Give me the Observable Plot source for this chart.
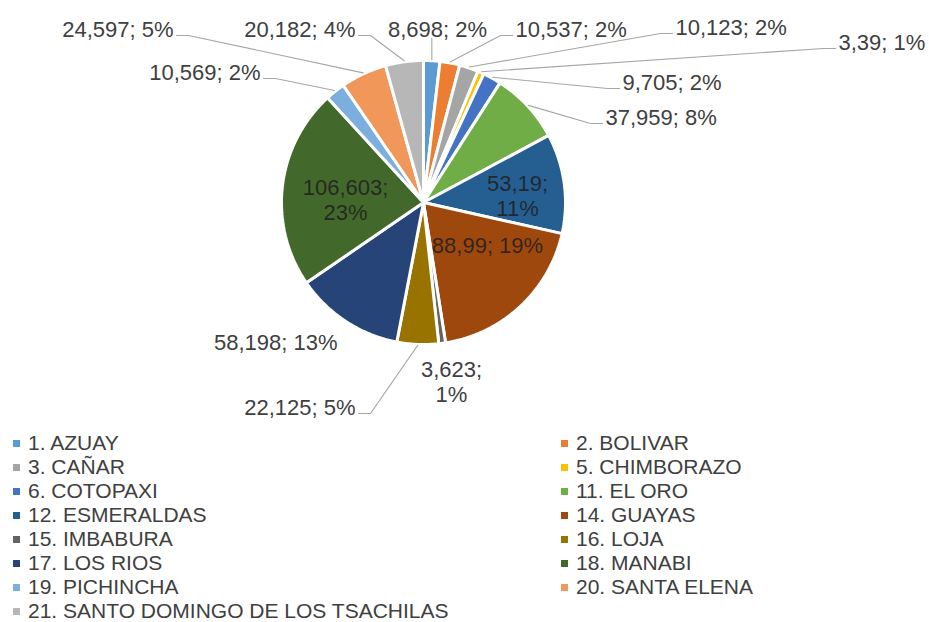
<!DOCTYPE html>
<html><head><meta charset="utf-8">
<script src="https://cdn.jsdelivr.net/npm/d3@7"></script>
<script src="https://cdn.jsdelivr.net/npm/@observablehq/plot@0.6"></script>
<style>
body{margin:0;background:#fff;font-family:"Liberation Sans",Arial,sans-serif;}
#legend{display:grid;grid-template-columns:548px 1fr;padding-left:13px;color:#404040;font-size:21px;}
.item{display:flex;align-items:center;height:24px;white-space:nowrap;}
.sw{width:7px;height:7px;margin-right:8px;flex:none;}
</style></head><body><div id="chart"></div><div id="legend"></div>
<script>
// ---- data ----
const provinces = ["1. AZUAY","2. BOLIVAR","3. CAÑAR","5. CHIMBORAZO","6. COTOPAXI","11. EL ORO","12. ESMERALDAS","14. GUAYAS","15. IMBABURA","16. LOJA","17. LOS RIOS","18. MANABI","19. PICHINCHA","20. SANTA ELENA","21. SANTO DOMINGO DE LOS TSACHILAS"];
const values = [8.698,10.537,10.123,3.39,9.705,37.959,53.19,88.99,3.623,22.125,58.198,106.603,10.569,24.597,20.182];
const shares = [2,2,2,1,2,8,11,19,1,5,13,23,2,5,4];
const colors = ["#5B9BD5","#ED7D31","#A5A5A5","#FFC000","#4472C4","#70AD47","#255E91","#9E480E","#636363","#997300","#264478","#43682B","#7CAFDD","#F1975A","#B7B7B7"];

// ---- layout ----
const W = 929, H = 431, CX = 423, CY = 202, R = 142;
const labelLayout = [
  {x:437, y:29, anchor:"middle", leader:"vertical"},
  {x:515, y:29, anchor:"start", leader:"elbow"},
  {x:675, y:27, anchor:"start", leader:"elbow"},
  {x:838, y:42, anchor:"start", leader:"elbow"},
  {x:622, y:82, anchor:"start", leader:"elbow"},
  {x:605, y:117, anchor:"start", leader:"elbow"},
  {x:517, y:195, anchor:"middle", split:true, inside:true},
  {x:487, y:245, anchor:"middle", inside:true},
  {x:451, y:381, anchor:"middle", split:true},
  {x:355, y:407, anchor:"end", leader:"elbow"},
  {x:337, y:342, anchor:"end"},
  {x:345, y:199, anchor:"middle", split:true, inside:true},
  {x:260, y:72, anchor:"end", leader:"elbow"},
  {x:173, y:29, anchor:"end", leader:"elbow"},
  {x:355, y:29, anchor:"end", leader:"elbow"}
];

const arcs = d3.pie().sort(null).value(d => d)(values);
const pt = (a, r) => [CX + r * Math.sin(a), CY - r * Math.cos(a)];

const slicePts = [];
arcs.forEach((a, i) => {
  slicePts.push({name: provinces[i], color: colors[i], x: CX, y: CY});
  const n = Math.max(2, Math.ceil((a.endAngle - a.startAngle) / 0.008));
  for (let k = 0; k <= n; k++) {
    const ang = a.startAngle + (a.endAngle - a.startAngle) * k / n;
    const [x, y] = pt(ang, R);
    slicePts.push({name: provinces[i], color: colors[i], x, y});
  }
});

const fmt = v => String(v).replace(".", ",");
const labels = arcs.map((a, i) => {
  const L = labelLayout[i];
  const sep = L.split ? ";\n" : "; ";
  return {name: provinces[i], x: L.x, y: L.y, anchor: L.anchor, inside: !!L.inside,
          text: fmt(values[i]) + sep + shares[i] + "%"};
});

const leaderPts = [];
arcs.forEach((a, i) => {
  const L = labelLayout[i];
  if (!L.leader) return;
  const mid = (a.startAngle + a.endAngle) / 2;
  const [ax, ay] = pt(mid, R + 1);
  const pts = [[ax, ay]];
  if (L.leader === "vertical") {
    pts.push([ax, L.y + 9]);
  } else if (L.anchor === "start") {
    pts.push([L.x - 15, L.y + 6], [L.x - 3, L.y + 6]);
  } else {
    pts.push([L.x + 15, L.y + 6], [L.x + 3, L.y + 6]);
  }
  pts.forEach(([x, y]) => leaderPts.push({name: provinces[i], x, y}));
});

const textOpts = {x: "x", y: "y", text: "text", fontSize: 22, fontFamily: "Liberation Sans, Arial, sans-serif", lineHeight: 1.13};

const chart = Plot.plot({
  width: W, height: H,
  margin: 0,
  x: {domain: [0, W], range: [0, W], axis: null},
  y: {domain: [0, H], range: [0, H], axis: null},
  color: {type: "identity"},
  style: {background: "white"},
  marks: [
    Plot.line(slicePts, {x: "x", y: "y", z: "name", fill: "color", stroke: "white", strokeWidth: 3, strokeLinejoin: "miter", curve: "linear-closed"}),
    Plot.line(leaderPts, {x: "x", y: "y", z: "name", stroke: "#a6a6a6", strokeWidth: 1.1, curve: "linear"}),
    Plot.text(labels.filter(d => d.anchor === "start"), {...textOpts, fill: "#404040", textAnchor: "start"}),
    Plot.text(labels.filter(d => d.anchor === "end"), {...textOpts, fill: "#404040", textAnchor: "end"}),
    Plot.text(labels.filter(d => d.anchor === "middle" && !d.inside), {...textOpts, fill: "#404040", textAnchor: "middle"}),
    Plot.text(labels.filter(d => d.inside), {...textOpts, fill: "#1e1e1e", fillOpacity: 0.85, textAnchor: "middle"})
  ]
});
document.getElementById("chart").appendChild(chart);

const legend = document.getElementById("legend");
provinces.forEach((p, i) => {
  const it = document.createElement("div");
  it.className = "item";
  const sw = document.createElement("span");
  sw.className = "sw";
  sw.style.background = colors[i];
  const tx = document.createElement("span");
  tx.textContent = p;
  it.appendChild(sw); it.appendChild(tx);
  legend.appendChild(it);
});
</script></body></html>
